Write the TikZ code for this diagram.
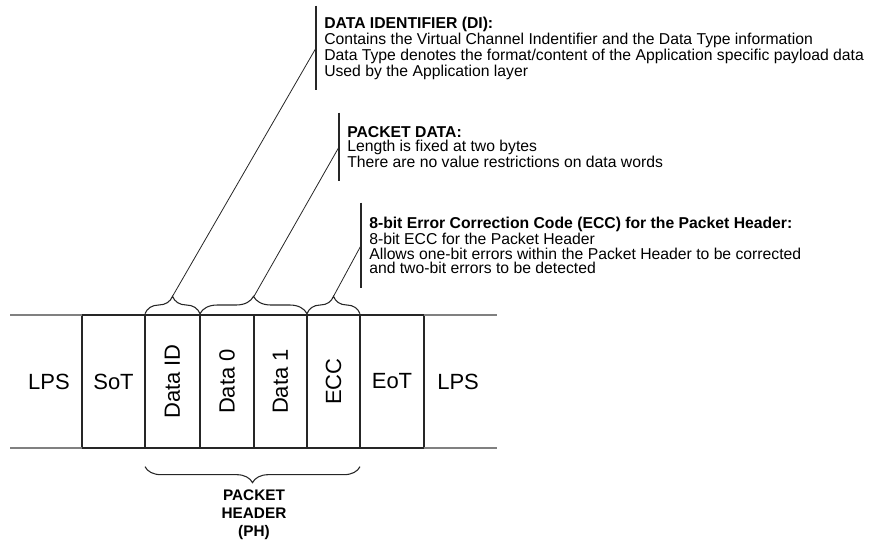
\documentclass[tikz,border=0pt]{standalone}
\usepackage{fontspec}
\setmainfont{Liberation Sans}
\usepackage{tikz}
\usetikzlibrary{positioning,decorations.pathreplacing}

\begin{document}
\begin{tikzpicture}[x=0.75pt,y=-0.75pt,
 cell/.style={draw=black!85,line width=.9pt,minimum height=99.75pt,inner sep=0pt,outer sep=0pt,font=\fontsize{16.5}{18}\selectfont},
 lbl/.style={inner sep=0pt,font=\fontsize{16.5}{18}\selectfont},
 rail/.style={black!50,line width=.9pt},
 note/.style={align=left,anchor=west,inner xsep=6pt,inner ysep=0pt,font=\fontsize{11.8}{10.8}\selectfont},
 phlbl/.style={align=center,inner sep=0pt,font=\fontsize{11.5}{13.5}\selectfont\bfseries},
 bar/.style={line width=.9pt,black!85},
 lead/.style={line width=.6pt,black!85},
 brc/.style={decorate,decoration={brace,amplitude=13pt,raise=1pt},line width=.8pt,black!85}]
\path[use as bounding box] (0,0) rectangle (875,543);
% packet cells
\node[cell,minimum width=47.25pt] (sot) at (113.5,381.5) {SoT};
\node[cell,minimum width=41.25pt,right=0pt of sot] (dataid) {\rotatebox{90}{Data ID}};
\node[cell,minimum width=40.5pt,right=0pt of dataid] (data0) {\rotatebox{90}{Data 0}};
\node[cell,minimum width=39.75pt,right=0pt of data0] (data1) {\rotatebox{90}{Data 1}};
\node[cell,minimum width=39.75pt,right=0pt of data1] (ecc) {\rotatebox{90}{ECC}};
\node[cell,minimum width=48pt,right=0pt of ecc] (eot) {EoT};
\node[lbl,left=9pt of sot] (lpsLeft) {LPS};
\node[lbl,right=9.75pt of eot] (lpsRight) {LPS};
\draw[rail] ([xshift=-54pt]sot.north west) -- (sot.north west);\draw[rail] (eot.north east) -- ([xshift=54.75pt]eot.north east);
\draw[rail] ([xshift=-54pt]sot.south west) -- (sot.south west);\draw[rail] (eot.south east) -- ([xshift=54.75pt]eot.south east);
% braces
\draw[brc] (dataid.north west) -- (dataid.north east);
\draw[brc] (data0.north west) -- (data1.north east);
\draw[brc] (ecc.north west) -- (ecc.north east);
\draw[brc,decoration={amplitude=12pt,raise=14pt}] (ecc.south east) -- (dataid.south west);
\coordinate (diTip) at ([yshift=14pt]dataid.north);
\coordinate (pdTip) at ([yshift=14pt]data0.north east);
\coordinate (eccTip) at ([yshift=14pt]ecc.north);
\coordinate (phTip) at ([yshift=-26pt]data0.south east);
\node[phlbl,below=5pt of phTip] (phLabel) {PACKET\\HEADER\\(PH)};
% notes
\node[note,minimum height=63pt] (diNote) at (316,48) {\textbf{DATA IDENTIFIER (DI):}\\Contains the Virtual Channel Indentifier and the Data Type information\\Data Type denotes the format/content of the Application specific payload data\\Used by the Application layer};
\node[note,minimum height=51pt] (pdNote) at (339,147) {\textbf{PACKET DATA:}\\Length is fixed at two bytes\\There are no value restrictions on data words};
\node[note,minimum height=63.75pt] (eccNote) at (361,245.5) {\textbf{8-bit Error Correction Code (ECC) for the Packet Header:}\\8-bit ECC for the Packet Header\\Allows one-bit errors within the Packet Header to be corrected\\and two-bit errors to be detected};
\draw[bar] (diNote.north west) -- (diNote.south west);
\draw[bar] (pdNote.north west) -- (pdNote.south west);
\draw[bar] (eccNote.north west) -- (eccNote.south west);
\draw[lead] (diTip) -- (diNote.west);
\draw[lead] (pdTip) -- (pdNote.west);
\draw[lead] (eccTip) -- (eccNote.west);
\end{tikzpicture}
\end{document}
